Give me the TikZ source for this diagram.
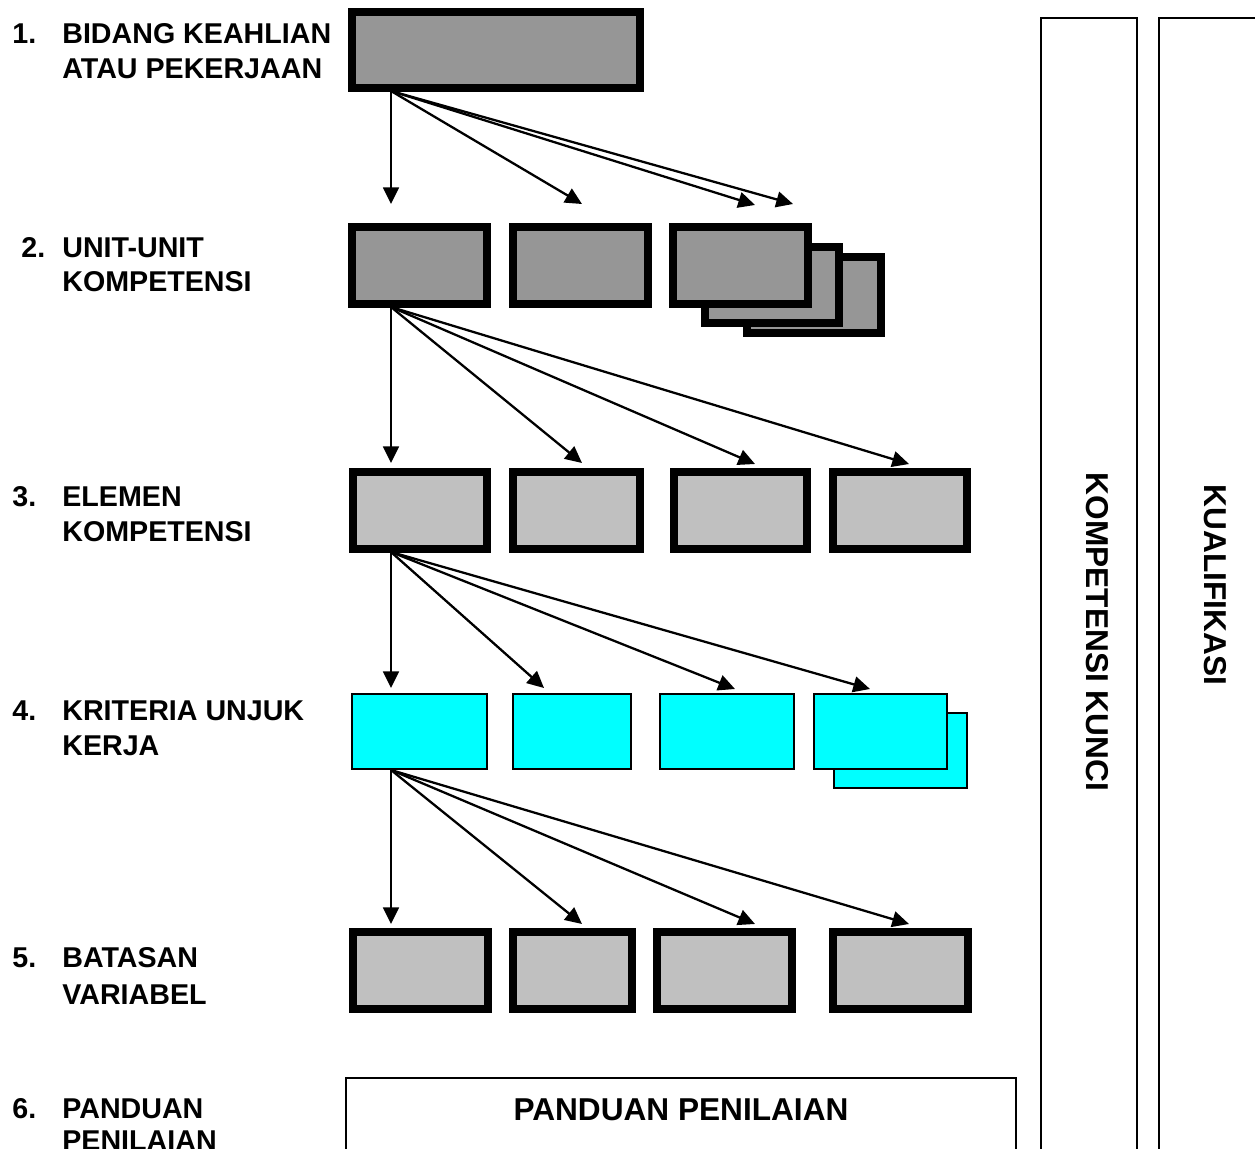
\documentclass[tikz,border=0pt]{standalone}
\usepackage{fontspec}
\setmainfont{Liberation Sans}
\usetikzlibrary{arrows.meta,fit}
\definecolor{unitgrey}{RGB}{150,150,150}
\definecolor{elemgrey}{RGB}{192,192,192}
\definecolor{kukcyan}{RGB}{0,255,255}
\tikzset{
  thickbox/.style={draw, line width=4.3pt, inner sep=0pt, outer sep=0pt},
  unitbox/.style={thickbox, fill=unitgrey},
  elembox/.style={thickbox, fill=elemgrey},
  kukbox/.style={draw, line width=1.5pt, fill=kukcyan, inner sep=0pt, outer sep=0pt},
  plainbox/.style={draw, line width=1.1pt, inner sep=0pt, outer sep=0pt},
  lbl/.style={font=\fontsize{16.3}{20}\selectfont\bfseries, anchor=base west, inner sep=0pt},
  biglbl/.style={font=\fontsize{18}{22}\selectfont\bfseries, inner sep=0pt},
  arr/.style={-{Triangle[length=9.5pt,width=9pt]}, line width=1.3pt},
}

\begin{document}
\begin{tikzpicture}[x=0.02cm, y=-0.02cm]
    \useasboundingbox (0,0) rectangle (1255,1149);
    \clip (0,0) rectangle (1255,1149);

    % Labels on the left
    \node[lbl] (n1) at (12,44) {1.};
    \node[lbl] (l1a) at (62,44) {BIDANG KEAHLIAN};
    \node[lbl] (l1b) at (62,79) {ATAU PEKERJAAN};
    \node[lbl] (n2) at (21,257) {2.};
    \node[lbl] (l2a) at (62,257) {UNIT-UNIT};
    \node[lbl] (l2b) at (62,291) {KOMPETENSI};
    \node[lbl] (n3) at (12,506) {3.};
    \node[lbl] (l3a) at (62,506) {ELEMEN};
    \node[lbl] (l3b) at (62,541) {KOMPETENSI};
    \node[lbl] (n4) at (12,720) {4.};
    \node[lbl] (l4a) at (62,720) {KRITERIA UNJUK};
    \node[lbl] (l4b) at (62,755) {KERJA};
    \node[lbl] (n5) at (12,967) {5.};
    \node[lbl] (l5a) at (62,967) {BATASAN};
    \node[lbl] (l5b) at (62,1004) {VARIABEL};
    \node[lbl] (n6) at (12,1118) {6.};
    \node[lbl] (l6a) at (62,1118) {PANDUAN};
    \node[lbl] (l6b) at (62,1150) {PENILAIAN};

    % Row 1: bidang keahlian
    \node[unitbox, fit={(352,12) (640,88)}] (b1) {};

    % Row 2: unit kompetensi (last one stacked)
    \node[unitbox, fit={(352,227) (487,304)}] (u1) {};
    \node[unitbox, fit={(513,227) (648,304)}] (u2) {};
    \node[unitbox, fit={(747,257) (881,333)}] (u3c) {};
    \node[unitbox, fit={(705,247) (839,323)}] (u3b) {};
    \node[unitbox, fit={(673,227) (808,304)}] (u3) {};

    % Row 3: elemen kompetensi
    \node[elembox, fit={(353,472) (487,549)}] (e1) {};
    \node[elembox, fit={(513,472) (640,549)}] (e2) {};
    \node[elembox, fit={(674,472) (807,549)}] (e3) {};
    \node[elembox, fit={(833,472) (967,549)}] (e4) {};

    % Row 4: kriteria unjuk kerja
    \node[kukbox, fit={(352,694) (487,769)}] (k1) {};
    \node[kukbox, fit={(513,694) (631,769)}] (k2) {};
    \node[kukbox, fit={(660,694) (794,769)}] (k3) {};
    \node[kukbox, fit={(834,713) (967,788)}] (k4b) {};
    \node[kukbox, fit={(814,694) (947,769)}] (k4) {};

    % Row 5: batasan variabel
    \node[elembox, fit={(353,932) (488,1009)}] (v1) {};
    \node[elembox, fit={(513,932) (632,1009)}] (v2) {};
    \node[elembox, fit={(657,932) (792,1009)}] (v3) {};
    \node[elembox, fit={(833,932) (968,1009)}] (v4) {};

    % Row 6: panduan penilaian
    \node[plainbox, fit={(346,1078) (1016,1170)}] (pp) {};
    \node[biglbl, anchor=base] (ppt) at (681,1120) {PANDUAN PENILAIAN};

    % Side columns
    \node[plainbox, fit={(1041,18) (1137,1170)}] (kk) {};
    \node[plainbox, fit={(1159,18) (1275,1170)}] (kq) {};
    \node[biglbl, rotate=-90] (kkt) at (1097,632) {KOMPETENSI KUNCI};
    \node[biglbl, rotate=-90] (kqt) at (1215,585) {KUALIFIKASI};

    % Arrow start points
    \coordinate (s1) at (391,91);
    \coordinate (s2) at (391,307);
    \coordinate (s3) at (391,552);
    \coordinate (s4) at (391,770);

    % Arrow tips
    \coordinate (t1a) at (391,204);
    \coordinate (t1b) at (582,204);
    \coordinate (t1c) at (755,205);
    \coordinate (t1d) at (793,204);
    \coordinate (t2a) at (391,463);
    \coordinate (t2b) at (582,463);
    \coordinate (t2c) at (755,464);
    \coordinate (t2d) at (909,464);
    \coordinate (t3a) at (391,688);
    \coordinate (t3b) at (544,688);
    \coordinate (t3c) at (735,689);
    \coordinate (t3d) at (870,689);
    \coordinate (t4a) at (391,924);
    \coordinate (t4b) at (582,924);
    \coordinate (t4c) at (755,924);
    \coordinate (t4d) at (909,924);

    % Arrows
    \foreach \r in {1,2,3,4} {
        \foreach \t in {a,b,c,d} {
            \draw[arr] (s\r) -- (t\r\t);
        }
    }
\end{tikzpicture}
\end{document}
